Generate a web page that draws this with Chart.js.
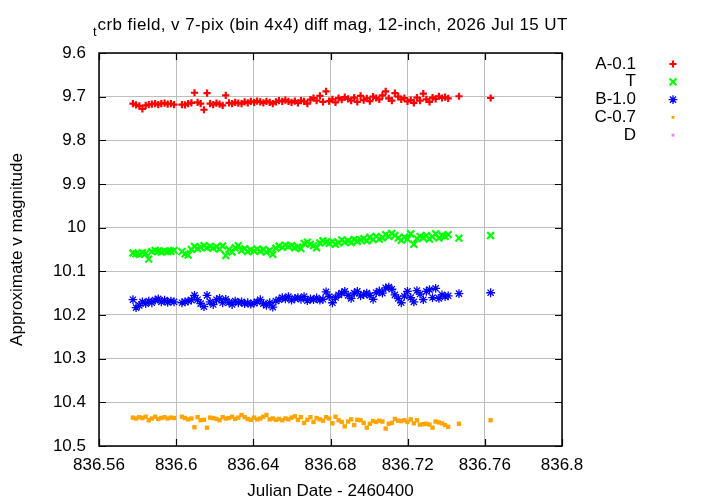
<!DOCTYPE html>
<html>
<head>
<meta charset="utf-8">
<script src="https://cdn.jsdelivr.net/npm/chart.js@4"></script>
<style>
  html, body { margin: 0; padding: 0; background: #fff; }
  #wrap { width: 720px; height: 504px; }
</style>
</head>
<body>
<div id="wrap"><canvas id="lc"></canvas></div>
<script>
// Julian Date - 2460400
const jd = [
  836.5776, 836.5792, 836.5809, 836.5825, 836.5842, 836.5858, 836.5874, 836.5891, 836.5907, 836.5923,
  836.5940, 836.5956, 836.5973, 836.5989,
  836.6030, 836.6046, 836.6062, 836.6079, 836.6095, 836.6111, 836.6127, 836.6144, 836.6160, 836.6176,
  836.6192, 836.6209, 836.6225, 836.6241, 836.6257, 836.6274, 836.6290, 836.6306, 836.6322, 836.6339,
  836.6355, 836.6371, 836.6387, 836.6404, 836.6420, 836.6436, 836.6452, 836.6468, 836.6485, 836.6501,
  836.6517, 836.6533, 836.6550, 836.6566, 836.6582, 836.6598, 836.6615, 836.6631, 836.6647, 836.6663,
  836.6680, 836.6696, 836.6712, 836.6728, 836.6745, 836.6761, 836.6777, 836.6793, 836.6810, 836.6826,
  836.6842, 836.6858, 836.6874, 836.6891, 836.6907, 836.6923, 836.6939, 836.6956, 836.6972, 836.6988,
  836.7004, 836.7021, 836.7037, 836.7053, 836.7069, 836.7086, 836.7102, 836.7118, 836.7134, 836.7151,
  836.7167, 836.7183, 836.7199, 836.7216, 836.7232, 836.7248, 836.7264, 836.7281, 836.7297, 836.7313,
  836.7329, 836.7345, 836.7362, 836.7378, 836.7394, 836.7410,
  836.7466, 836.7630
];

// A-0.1
const magA = [
  9.716, 9.719, 9.721, 9.728, 9.720, 9.718, 9.717, 9.716, 9.718, 9.716, 9.715, 9.717, 9.716, 9.718,
  9.718, 9.719, 9.716, 9.714, 9.691, 9.713, 9.716, 9.730, 9.692, 9.716, 9.718, 9.715, 9.717, 9.720,
  9.697, 9.714, 9.716, 9.713, 9.715, 9.716, 9.712, 9.714, 9.711, 9.713, 9.710, 9.712, 9.714, 9.711,
  9.713, 9.716, 9.712, 9.709, 9.711, 9.708, 9.711, 9.713, 9.710, 9.714, 9.709, 9.711, 9.716, 9.707,
  9.703, 9.709, 9.698, 9.712, 9.688, 9.710, 9.706, 9.713, 9.703, 9.707, 9.701, 9.705, 9.709, 9.702,
  9.712, 9.698, 9.708, 9.704, 9.710, 9.700, 9.703, 9.706, 9.697, 9.688, 9.704, 9.709, 9.692, 9.700,
  9.706, 9.703, 9.711, 9.708, 9.714, 9.702, 9.709, 9.693, 9.706, 9.712, 9.702, 9.705, 9.699, 9.703,
  9.701, 9.704,
  9.699, 9.703
];

// T
const magT = [
  10.058, 10.060, 10.061, 10.057, 10.059, 10.072, 10.055, 10.052, 10.054, 10.056, 10.053, 10.055, 10.054, 10.052,
  10.055, 10.060, 10.063, 10.050, 10.043, 10.048, 10.045, 10.041, 10.046, 10.043, 10.047, 10.044, 10.049, 10.042,
  10.064, 10.050, 10.056, 10.046, 10.041, 10.052, 10.048, 10.055, 10.051, 10.053, 10.049, 10.054, 10.050, 10.056,
  10.052, 10.061, 10.047, 10.042, 10.045, 10.040, 10.043, 10.041, 10.046, 10.044, 10.048, 10.036, 10.033, 10.038,
  10.041, 10.046, 10.035, 10.030, 10.033, 10.036, 10.032, 10.038, 10.035, 10.028, 10.033, 10.030, 10.034, 10.027,
  10.031, 10.028, 10.025, 10.030, 10.022, 10.027, 10.020, 10.026, 10.023, 10.016, 10.020, 10.013, 10.018, 10.024,
  10.029, 10.022, 10.026, 10.014, 10.038, 10.025, 10.020, 10.023, 10.018, 10.026, 10.021, 10.014, 10.024, 10.018,
  10.020, 10.016,
  10.024, 10.018
];

// B-1.0
const magB = [
  10.165, 10.183, 10.178, 10.170, 10.174, 10.168, 10.172, 10.166, 10.163, 10.170, 10.166, 10.171, 10.168, 10.170,
  10.172, 10.170, 10.168, 10.166, 10.155, 10.165, 10.174, 10.181, 10.155, 10.170, 10.176, 10.165, 10.162, 10.172,
  10.164, 10.171, 10.176, 10.168, 10.172, 10.170, 10.174, 10.172, 10.175, 10.173, 10.170, 10.165, 10.174, 10.178,
  10.172, 10.182, 10.168, 10.165, 10.160, 10.163, 10.158, 10.166, 10.162, 10.160, 10.164, 10.158, 10.167, 10.163,
  10.165, 10.161, 10.166, 10.164, 10.147, 10.158, 10.172, 10.160, 10.154, 10.150, 10.146, 10.155, 10.162, 10.150,
  10.146, 10.156, 10.153, 10.150, 10.155, 10.164, 10.149, 10.145, 10.150, 10.138, 10.136, 10.141, 10.154, 10.162,
  10.172, 10.157, 10.146, 10.160, 10.170, 10.144, 10.152, 10.165, 10.146, 10.142, 10.160, 10.139, 10.162, 10.154,
  10.158, 10.156,
  10.151, 10.149
];

// C-0.7
const magC = [
  10.435, 10.437, 10.434, 10.436, 10.433, 10.441, 10.437, 10.433, 10.438, 10.436, 10.434, 10.437, 10.435, 10.436,
  10.433, 10.436, 10.439, 10.437, 10.457, 10.434, 10.441, 10.440, 10.458, 10.435, 10.436, 10.438, 10.441, 10.434,
  10.437, 10.436, 10.433, 10.438, 10.435, 10.429, 10.434, 10.438, 10.440, 10.435, 10.439, 10.437, 10.433, 10.429,
  10.439, 10.437, 10.440, 10.438, 10.441, 10.437, 10.439, 10.435, 10.432, 10.440, 10.434, 10.447, 10.440, 10.434,
  10.445, 10.436, 10.439, 10.442, 10.434, 10.437, 10.448, 10.433, 10.441, 10.445, 10.455, 10.444, 10.439, 10.452,
  10.440, 10.441, 10.447, 10.458, 10.449, 10.443, 10.445, 10.442, 10.444, 10.460, 10.449, 10.447, 10.438, 10.442,
  10.443, 10.441, 10.445, 10.439, 10.448, 10.441, 10.451, 10.450, 10.449, 10.451, 10.458, 10.444, 10.446, 10.448,
  10.452, 10.456,
  10.449, 10.441
];

// D has no points in range
const magD = [];

const xTicks = [836.56, 836.6, 836.64, 836.68, 836.72, 836.76, 836.8];
const yTicks = [9.6, 9.7, 9.8, 9.9, 10, 10.1, 10.2, 10.3, 10.4, 10.5];

const titleSub = 't';
const titleMain = 'crb field, v 7-pix (bin 4x4) diff mag, 12-inch, 2026 Jul 15 UT';
const xTitle = 'Julian Date - 2460400';
const yTitle = 'Approximate v magnitude';

const FONT = '"Liberation Sans", Arial, sans-serif';
const FS = 17;

function pts(ys) {
    return ys.map((y, i) => ({ x: jd[i], y: y }));
}

// border, mirrored inward ticks, title, axis titles and the key, gnuplot style
const gnuFrame = {
    id: 'gnuFrame',
    afterDraw(chart) {
        const ctx = chart.ctx;
        const a = chart.chartArea;
        const xs = chart.scales.x, ys = chart.scales.y;
        ctx.save();
        ctx.strokeStyle = '#000';
        ctx.lineWidth = 1.2;
        ctx.beginPath();
        xTicks.forEach(v => {
            const px = Math.round(xs.getPixelForValue(v)) + 0.5;
            ctx.moveTo(px, a.bottom); ctx.lineTo(px, a.bottom - 7);
            ctx.moveTo(px, a.top); ctx.lineTo(px, a.top + 7);
        });
        yTicks.forEach(v => {
            const py = Math.round(ys.getPixelForValue(v)) + 0.5;
            ctx.moveTo(a.left, py); ctx.lineTo(a.left + 7, py);
            ctx.moveTo(a.right, py); ctx.lineTo(a.right - 7, py);
        });
        ctx.stroke();
        ctx.lineWidth = 1.5;
        ctx.strokeRect(a.left, a.top, a.right - a.left, a.bottom - a.top);

        // title with subscript, spread to the width gnuplot gives it
        ctx.fillStyle = '#000';
        ctx.textBaseline = 'alphabetic';
        ctx.textAlign = 'left';
        ctx.font = '13px ' + FONT;
        const wSub = ctx.measureText(titleSub).width;
        ctx.font = FS + 'px ' + FONT;
        const wMain = ctx.measureText(titleMain).width;
        const spread = Math.max(0, (474 - wSub - wMain) / titleMain.length);
        const tx = 93;
        ctx.font = '13px ' + FONT;
        ctx.fillText(titleSub, tx, 36);
        ctx.font = FS + 'px ' + FONT;
        ctx.letterSpacing = spread.toFixed(2) + 'px';
        ctx.fillText(titleMain, tx + wSub + 1, 30);
        ctx.letterSpacing = '0px';

        // axis titles
        const cx = (a.left + a.right) / 2;
        ctx.textAlign = 'center';
        ctx.textBaseline = 'middle';
        ctx.fillText(xTitle, cx, 491);
        ctx.save();
        ctx.translate(17, (a.top + a.bottom) / 2);
        ctx.rotate(-Math.PI / 2);
        ctx.fillText(yTitle, 0, 0);
        ctx.restore();

        // key
        chart.data.datasets.forEach((ds, i) => {
            const y = 64 + i * 17.8;
            ctx.fillStyle = '#000';
            ctx.textAlign = 'right';
            ctx.textBaseline = 'middle';
            ctx.font = FS + 'px ' + FONT;
            ctx.fillText(ds.label, 636, y);
            ctx.strokeStyle = ds.borderColor;
            ctx.fillStyle = ds.backgroundColor;
            ctx.lineWidth = ds.borderWidth;
            const r = ds.pointStyle === 'rect' ? 2 : ds.pointRadius;
            Chart.helpers.drawPoint(ctx, {
                pointStyle: ds.pointStyle, radius: r, borderWidth: ds.borderWidth, rotation: 0
            }, 673, y);
        });
        ctx.restore();
    }
};

const ctx = document.getElementById('lc').getContext('2d');
new Chart(ctx, {
    type: 'scatter',
    data: {
        datasets: [
            { label: 'A-0.1', data: pts(magA), pointStyle: 'cross', pointRadius: 3.6, borderWidth: 2.2,
              borderColor: '#ff0000', backgroundColor: '#ff0000' },
            { label: 'T', data: pts(magT), pointStyle: 'crossRot', pointRadius: 4.8, borderWidth: 2.2,
              borderColor: '#00ff00', backgroundColor: '#00ff00' },
            { label: 'B-1.0', data: pts(magB), pointStyle: 'star', pointRadius: 4.4, borderWidth: 1.3,
              borderColor: '#0000ff', backgroundColor: '#0000ff' },
            { label: 'C-0.7', data: pts(magC), pointStyle: 'rect', pointRadius: 3.1, borderWidth: 0,
              borderColor: '#ffa500', backgroundColor: '#ffa500' },
            { label: 'D', data: pts(magD), pointStyle: 'rect', pointRadius: 3.1, borderWidth: 0,
              borderColor: '#f080f0', backgroundColor: '#f080f0' }
        ]
    },
    options: {
        responsive: true,
        maintainAspectRatio: false,
        animation: false,
        layout: { padding: { left: 0, top: 53, right: 158, bottom: 0 } },
        plugins: {
            legend: { display: false },
            tooltip: { enabled: false }
        },
        scales: {
            x: {
                type: 'linear',
                min: 836.56, max: 836.8,
                afterBuildTicks: s => { s.ticks = xTicks.map(v => ({ value: v })); },
                afterFit: s => { s.height = 58; },
                border: { display: false },
                grid: { color: '#bdbdbd', lineWidth: 1, drawTicks: false, borderDash: [1.5, 3] },
                ticks: {
                    color: '#000', padding: 9, maxRotation: 0, autoSkip: false,
                    font: { family: FONT, size: FS },
                    callback: v => String(+v.toFixed(2))
                }
            },
            y: {
                type: 'linear',
                reverse: true,
                min: 9.6, max: 10.5,
                afterBuildTicks: s => { s.ticks = yTicks.map(v => ({ value: v })); },
                afterFit: s => { s.width = 99; },
                border: { display: false },
                grid: { color: '#bdbdbd', lineWidth: 1, drawTicks: false, borderDash: [1.5, 3] },
                ticks: {
                    color: '#000', padding: 13, autoSkip: false,
                    font: { family: FONT, size: FS },
                    callback: v => String(+v.toFixed(1))
                }
            }
        }
    },
    plugins: [gnuFrame]
});
</script>
</body>
</html>
